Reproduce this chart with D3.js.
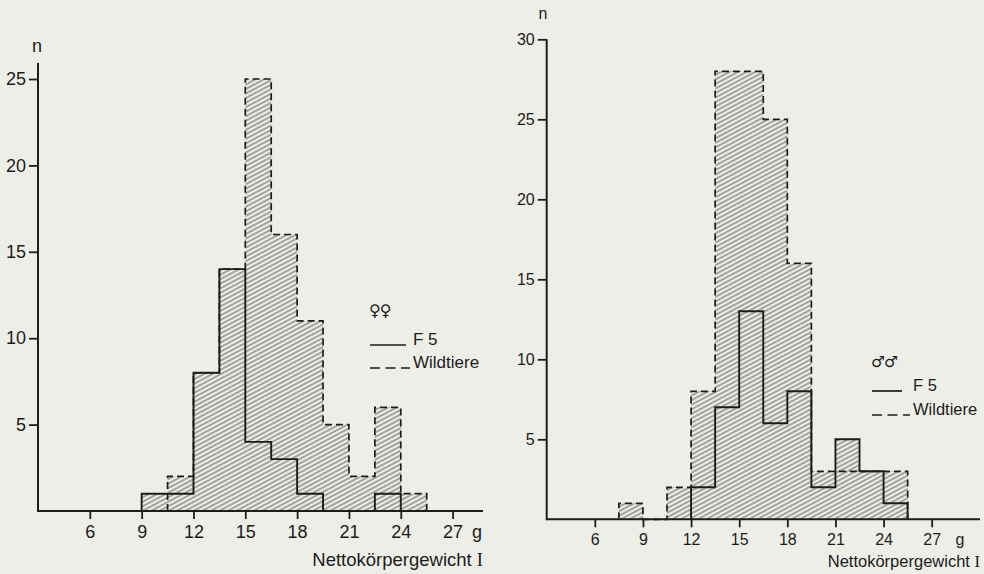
<!DOCTYPE html>
<html>
<head>
<meta charset="utf-8">
<script src="https://cdn.jsdelivr.net/npm/d3@7"></script>
<style>
  body { margin: 0; background: #eeeee9; }
  svg { display: block; }
  text { font-family: "Liberation Sans", Arial, sans-serif; fill: #1c1c1c; }
</style>
</head>
<body>
<div id="chart"></div>
<script>
// class starts in g, each class is 1.5 g wide
const binStarts = [7.5, 9, 10.5, 12, 13.5, 15, 16.5, 18, 19.5, 21, 22.5, 24];
const binWidth = 1.5;
const xTicks = [6, 9, 12, 15, 18, 21, 24, 27];

// females (left)
const femaleF5   = [0, 1, 1, 8, 14, 4, 3, 1, 0, 0, 1, 0];
const femaleWild = [0, 0, 2, 8, 14, 25, 16, 11, 5, 2, 6, 1];
const femaleYTicks = [5, 10, 15, 20, 25];

// males (right)
const maleF5   = [0, 0, 0, 2, 7, 13, 6, 8, 2, 5, 3, 1];
const maleWild = [1, 0, 2, 8, 28, 28, 25, 16, 3, 3, 3, 3];
const maleYTicks = [5, 10, 15, 20, 25, 30];

const legendLabels = ["F 5", "Wildtiere"];
const xTitle = "Nettokörpergewicht ";

const svg = d3.select("#chart").append("svg")
    .attr("width", 984)
    .attr("height", 574);

// hatching used for both histograms
svg.append("defs").append("pattern")
    .attr("id", "hatch")
    .attr("patternUnits", "userSpaceOnUse")
    .attr("width", 8)
    .attr("height", 4)
    .attr("patternTransform", "rotate(-28)")
    .append("line")
    .attr("x1", 0).attr("y1", 2).attr("x2", 8).attr("y2", 2)
    .attr("stroke", "#444")
    .attr("stroke-width", 0.9);

const panels = [
    {
        f5: femaleF5, wild: femaleWild, yTicks: femaleYTicks, yMax: 25, symbol: "♀♀",
        xr: [38, 452.6], yr: [511, 79], axisEnd: 483, axisTop: 63,
        font: 18, tickLabelY: 27, nPos: [37, 52], gX: 477, titleY: 566,
        legend: {x: 370, y: 345, gap: 23, solidEnd: 406, dashEnd: 410, textX: 413, font: 17, symY: 316}
    },
    {
        f5: maleF5, wild: maleWild, yTicks: maleYTicks, yMax: 30, symbol: "♂♂",
        xr: [546.7, 931.7], yr: [519.3, 39.3], axisEnd: 980, axisTop: 39.3,
        font: 16, tickLabelY: 26, nPos: [543, 19], gX: 960, titleY: 567,
        legend: {x: 872, y: 391, gap: 24, solidEnd: 902, dashEnd: 910, textX: 913, font: 16.5, symY: 367}
    }
];

panels.forEach(p => drawPanel(p));

function drawPanel(p) {
    const x = d3.scaleLinear().domain([3, 27]).range(p.xr);
    const y = d3.scaleLinear().domain([0, p.yMax]).range(p.yr);
    const g = svg.append("g");

    // turn a list of counts into step points, dropping empty classes at both ends
    function steps(values) {
        const first = values.findIndex(v => v > 0);
        let last = values.length - 1;
        while (values[last] === 0) last--;
        const pts = [[binStarts[first], 0]];
        for (let i = first; i <= last; i++) pts.push([binStarts[i], values[i]]);
        pts.push([binStarts[last] + binWidth, 0]);
        return pts;
    }

    const area = d3.area()
        .x(d => x(d[0]))
        .y0(y(0))
        .y1(d => y(d[1]))
        .curve(d3.curveStepAfter);
    const line = d3.line()
        .x(d => x(d[0]))
        .y(d => y(d[1]))
        .curve(d3.curveStepAfter);

    // hatched area = both histograms together (higher count of each class)
    const both = p.f5.map((v, i) => Math.max(v, p.wild[i]));
    g.append("path")
        .attr("d", area(steps(both)))
        .attr("fill", "url(#hatch)");

    g.append("path")
        .attr("d", line(steps(p.wild)))
        .attr("fill", "none")
        .attr("stroke", "#1c1c1c")
        .attr("stroke-width", 1.7)
        .attr("stroke-dasharray", "7,4");

    g.append("path")
        .attr("d", line(steps(p.f5)))
        .attr("fill", "none")
        .attr("stroke", "#1c1c1c")
        .attr("stroke-width", 1.9);

    // axes
    const xAxis = g.append("g")
        .attr("transform", `translate(0,${y(0)})`)
        .call(d3.axisBottom(x).tickValues(xTicks).tickSize(8).tickSizeOuter(0));
    const yAxis = g.append("g")
        .attr("transform", `translate(${x(3)},0)`)
        .call(d3.axisLeft(y).tickValues(p.yTicks).tickSize(9).tickSizeOuter(0).tickPadding(3));

    [xAxis, yAxis].forEach(a => {
        a.select(".domain").remove();
        a.selectAll("line").attr("stroke", "#1c1c1c").attr("stroke-width", 1.8);
        a.selectAll("text")
            .style("font-family", "'Liberation Sans', Arial, sans-serif")
            .style("font-size", p.font + "px")
            .attr("fill", "#1c1c1c");
    });
    xAxis.selectAll("text").attr("dy", null).attr("y", p.tickLabelY);

    g.append("line")
        .attr("x1", x(3)).attr("x2", p.axisEnd)
        .attr("y1", y(0)).attr("y2", y(0))
        .attr("stroke", "#1c1c1c").attr("stroke-width", 2);
    g.append("line")
        .attr("x1", x(3)).attr("x2", x(3))
        .attr("y1", y(0) + 1).attr("y2", p.axisTop)
        .attr("stroke", "#1c1c1c").attr("stroke-width", 2);

    // unit labels
    g.append("text")
        .attr("x", p.nPos[0]).attr("y", p.nPos[1])
        .attr("text-anchor", "middle")
        .style("font-size", p.font + "px")
        .text("n");
    g.append("text")
        .attr("x", p.gX).attr("y", y(0) + p.tickLabelY)
        .attr("text-anchor", "middle")
        .style("font-size", p.font + "px")
        .text("g");

    const title = g.append("text")
        .attr("x", p.axisEnd).attr("y", p.titleY)
        .attr("text-anchor", "end")
        .style("font-size", (p.font + 0.5) + "px")
        .text(xTitle);
    title.append("tspan")
        .style("font-family", "'Liberation Serif', serif")
        .text("I");

    // legend
    const L = p.legend;
    g.append("text")
        .attr("x", L.x - 1).attr("y", L.symY)
        .style("font-family", "'DejaVu Sans', sans-serif")
        .style("font-size", (L.font - 1) + "px")
        .style("letter-spacing", "-1px")
        .text(p.symbol);
    g.append("line")
        .attr("x1", L.x).attr("x2", L.solidEnd)
        .attr("y1", L.y).attr("y2", L.y)
        .attr("stroke", "#1c1c1c").attr("stroke-width", 1.7);
    g.append("line")
        .attr("x1", L.x).attr("x2", L.dashEnd)
        .attr("y1", L.y + L.gap).attr("y2", L.y + L.gap)
        .attr("stroke", "#1c1c1c").attr("stroke-width", 1.7)
        .attr("stroke-dasharray", "10,5.5");
    legendLabels.forEach((t, i) => {
        g.append("text")
            .attr("x", L.textX).attr("y", L.y + i * L.gap)
            .style("font-size", L.font + "px")
            .text(t);
    });
}
</script>
</body>
</html>
